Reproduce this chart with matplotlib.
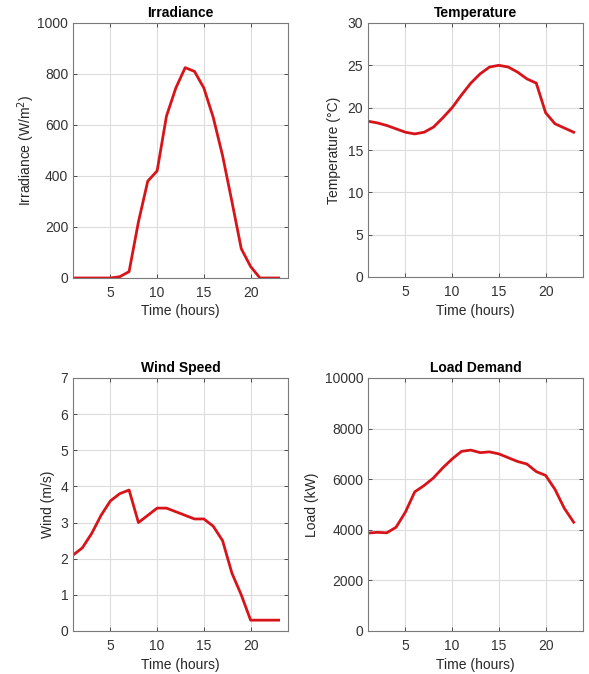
import numpy as np
import matplotlib
matplotlib.use("Agg")
import matplotlib.pyplot as plt

plt.rcParams['font.family'] = ['Liberation Sans', 'DejaVu Sans']

# Hourly profiles
hours = list(range(1, 24))
irradiance = [0, 0, 0, 0, 0, 5, 25, 220, 380, 420, 635, 745, 825, 810, 745,
              630, 480, 300, 115, 45, 0, 0, 0]
temperature = [18.4, 18.2, 17.9, 17.5, 17.1, 16.9, 17.1, 17.7, 18.8, 20.0, 21.5,
               22.9, 24.0, 24.8, 25.0, 24.8, 24.2, 23.4, 22.9, 19.4, 18.1, 17.6, 17.1]
wind = [2.1, 2.3, 2.7, 3.2, 3.6, 3.8, 3.9, 3.0, 3.2, 3.4, 3.4, 3.3, 3.2, 3.1,
        3.1, 2.9, 2.5, 1.6, 1.0, 0.3, 0.3, 0.3, 0.3]
load = [3870, 3900, 3880, 4100, 4700, 5500, 5750, 6050, 6450, 6800, 7100, 7150,
        7050, 7080, 7000, 6850, 6700, 6600, 6300, 6150, 5600, 4850, 4300]

panels = [
    ("Irradiance", irradiance, "Irradiance (W/m$^2$)", (0, 1000), [0, 200, 400, 600, 800, 1000], 0),
    ("Temperature", temperature, "Temperature (°C)", (0, 30), [0, 5, 10, 15, 20, 25, 30], 5),
    ("Wind Speed", wind, "Wind (m/s)", (0, 7), [0, 1, 2, 3, 4, 5, 6, 7], 4),
    ("Load Demand", load, "Load (kW)", (0, 10000), [0, 2000, 4000, 6000, 8000, 10000], 4),
]

W, H = 589, 674
fig = plt.figure(figsize=(W / 100, H / 100), dpi=100)

# axes boxes in pixels: left, top, right, bottom
boxes = [(73, 23, 288, 278), (368, 23, 583, 277), (73, 378, 288, 631), (368, 378, 583, 631)]

for (title, vals, ylab, ylim, yt, lp), (l, t, r, b) in zip(panels, boxes):
    ax = fig.add_axes([l / W, 1 - b / H, (r - l) / W, (b - t) / H])
    ax.plot(hours, vals, color='#d7141a', lw=2)
    ax.set_xlim(1, 24)
    ax.set_ylim(*ylim)
    ax.set_xticks([5, 10, 15, 20])
    ax.set_yticks(yt)
    ax.grid(True, color='#dcdcdc', lw=0.8)
    ax.set_axisbelow(True)
    ax.tick_params(direction='in', top=True, right=True, length=3, labelsize=10,
                   colors='#333333', width=0.6)
    ax.tick_params(axis='x', pad=6)
    for s in ax.spines.values():
        s.set_color('#7a7a7a')
        s.set_linewidth(0.8)
    ax.set_title(title, fontsize=10, fontweight='bold', pad=4)
    ax.set_xlabel("Time (hours)", fontsize=10, color='#262626', labelpad=3)
    ax.set_ylabel(ylab, fontsize=10, color='#262626', labelpad=lp)

fig.savefig("out.png", dpi=100)
